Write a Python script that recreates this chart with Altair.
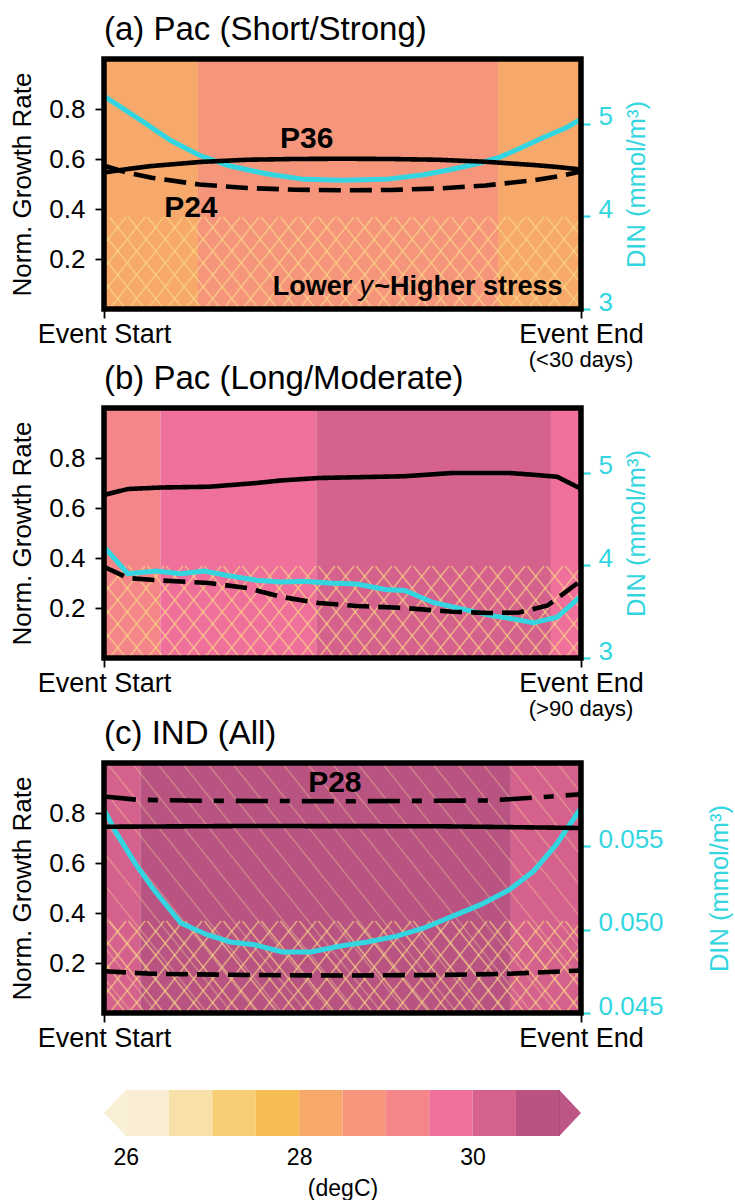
import altair as alt
import pandas as pd

FONT = "Liberation Sans"
CYAN = "#33D6E0"
W, H = 477, 250

# ---------------- colour scale (SST, degC) ----------------
sst_thresholds = [26, 26.5, 27, 27.5, 28, 28.5, 29, 29.5, 30, 30.5, 31]
sst_colors = ["#F9EFD7", "#F9EED4", "#F7E1A8", "#F7CE75", "#F8BC55", "#F6A96A",
              "#F5967C", "#F4868A", "#EF719B", "#D5628C", "#B95482", "#BB5686"]
cbar_ticks = [26, 28, 30]

# ---------------- panel (a) Pac short/strong ----------------
a_band_start = [0.0, 0.197, 0.826]
a_band_end = [0.197, 0.826, 1.0]
a_band_sst = [28.25, 28.75, 28.25]
a_p36_x = [0, 0.05, 0.1, 0.2, 0.3, 0.4, 0.5, 0.6, 0.7, 0.8, 0.9, 0.95, 1.0]
a_p36_y = [0.546, 0.56, 0.572, 0.588, 0.597, 0.600, 0.601, 0.600, 0.597, 0.589, 0.576, 0.568, 0.558]
a_p24_x = [0, 0.05, 0.1, 0.2, 0.3, 0.4, 0.5, 0.6, 0.7, 0.8, 0.9, 0.95, 1.0]
a_p24_y = [0.573, 0.545, 0.525, 0.498, 0.484, 0.477, 0.475, 0.476, 0.482, 0.494, 0.515, 0.53, 0.55]
a_din_x = [0, 0.08, 0.14, 0.2, 0.26, 0.34, 0.42, 0.5, 0.59, 0.67, 0.73, 0.79, 0.83, 0.87, 0.92, 0.97, 1.0]
a_din = [5.30, 5.03, 4.82, 4.66, 4.55, 4.46, 4.40, 4.39, 4.40, 4.45, 4.51, 4.58, 4.64, 4.73, 4.85, 4.96, 5.05]

# ---------------- panel (b) Pac long/moderate ----------------
b_band_start = [0.0, 0.118, 0.445, 0.937]
b_band_end = [0.118, 0.445, 0.937, 1.0]
b_band_sst = [29.25, 29.75, 30.25, 29.75]
b_p36_x = [0, 0.05, 0.12, 0.22, 0.32, 0.37, 0.45, 0.63, 0.73, 0.85, 0.9, 0.95, 1.0]
b_p36_y = [0.652, 0.676, 0.682, 0.685, 0.70, 0.71, 0.72, 0.727, 0.74, 0.74, 0.733, 0.725, 0.677]
b_p24_x = [0, 0.05, 0.12, 0.22, 0.3, 0.37, 0.45, 0.53, 0.63, 0.73, 0.81, 0.87, 0.93, 1.0]
b_p24_y = [0.365, 0.32, 0.31, 0.30, 0.28, 0.245, 0.22, 0.208, 0.20, 0.185, 0.18, 0.182, 0.21, 0.31]
b_din_x = [0, 0.05, 0.11, 0.16, 0.21, 0.26, 0.32, 0.37, 0.42, 0.47, 0.53, 0.59, 0.63, 0.69,
           0.75, 0.81, 0.86, 0.9, 0.95, 1.0]
b_din = [4.20, 3.91, 3.94, 3.91, 3.94, 3.89, 3.84, 3.82, 3.83, 3.81, 3.80, 3.74, 3.73, 3.60,
         3.53, 3.46, 3.42, 3.38, 3.44, 3.67]

# ---------------- panel (c) IND all ----------------
c_band_start = [0.0, 0.076, 0.853]
c_band_end = [0.076, 0.853, 1.0]
c_band_sst = [30.25, 30.75, 30.25]
c_p28_x = [0, 0.07, 0.2, 0.5, 0.8, 0.85, 0.93, 1.0]
c_p28_y = [0.866, 0.853, 0.849, 0.847, 0.85, 0.855, 0.865, 0.875]
c_p36_x = [0, 0.3, 0.7, 1.0]
c_p36_y = [0.745, 0.748, 0.747, 0.74]
c_p24_x = [0, 0.1, 0.3, 0.5, 0.7, 0.85, 1.0]
c_p24_y = [0.167, 0.157, 0.152, 0.15, 0.152, 0.157, 0.17]
c_din_x = [0.0, 0.028, 0.067, 0.107, 0.161, 0.216, 0.265, 0.315, 0.374, 0.434, 0.493, 0.552,
           0.612, 0.671, 0.73, 0.79, 0.85, 0.9, 0.948, 1.0]
c_din = [0.0572, 0.0557, 0.0539, 0.0523, 0.0504, 0.0497, 0.04926, 0.0491, 0.04866, 0.04866,
         0.0490, 0.04926, 0.0496, 0.0501, 0.0508, 0.0515, 0.0524, 0.0535, 0.0551, 0.0573]

STRESS_TOP = 0.368   # top of the cross-hatched "higher stress" zone

# ---------------- helpers ----------------
sst_scale = alt.Scale(type="threshold", domain=sst_thresholds, range=sst_colors)
xs = alt.Scale(domain=[0, 1], nice=False, zero=False)
ys = alt.Scale(domain=[0, 1], nice=False, zero=False)


def hatch_lines(y_lo, y_hi, direction, spacing, slope=1.25):
    """Diagonal hatch texture clipped to x in [0,1], y in [y_lo, y_hi]."""
    v0, v1 = y_lo * H, y_hi * H
    span = (v1 - v0) / slope
    rows = []
    if direction == "/":
        c = -span + 3
        while c < W:
            ua = max(c, 0.0); va = v0 + slope * (ua - c)
            ub = min(c + span, W); vb = v0 + slope * (ub - c)
            if ub > ua:
                rows.append((ua / W, va / H, ub / W, vb / H))
            c += spacing
    else:
        c = 3.0
        while c < W + span:
            ua = max(c - span, 0.0); va = v0 + slope * (c - ua)
            ub = min(c, W); vb = v0 + slope * (c - ub)
            if ub > ua:
                rows.append((ua / W, va / H, ub / W, vb / H))
            c += spacing
    return pd.DataFrame(rows, columns=["x", "y", "x2", "y2"])


def series_df(pairs):
    frames = []
    for name, xv, yv in pairs:
        frames.append(pd.DataFrame({"x": xv, "y": yv, "s": name}))
    return pd.concat(frames, ignore_index=True)


x_axis = alt.Axis(values=[0, 1], labelExpr="datum.value < 0.5 ? 'Event Start' : 'Event End'",
                  labelFlush=False, labelOverlap=False, title=None, domain=False, grid=False,
                  tickSize=9, tickWidth=1.8, tickColor="black", labelFontSize=27,
                  labelPadding=3, labelColor="black", labelFont=FONT)
y_axis = alt.Axis(values=[0.2, 0.4, 0.6, 0.8], format=".1f", title="Norm. Growth Rate",
                  titleFontSize=26, titleFontWeight="normal", titlePadding=13, titleColor="black",
                  labelFontSize=26, labelPadding=10, labelColor="black", tickSize=9,
                  tickWidth=1.8, tickColor="black", domain=False, grid=False,
                  labelFont=FONT, titleFont=FONT)
X = alt.X("x:Q", scale=xs, axis=x_axis)
Y = alt.Y("y:Q", scale=ys, axis=y_axis)

# plot-area frame (the domain corners of both axes)
frame = pd.DataFrame({"x": [0.0], "x2": [1.0], "y": [0.0], "y2": [1.0]})


def ann(x, y, text, size=30, weight="bold", style="normal", align="center", dx=0):
    return alt.Chart(pd.DataFrame({"x": [x], "y": [y], "t": [text]})).mark_text(
        fontSize=size, fontWeight=weight, fontStyle=style, align=align,
        baseline="alphabetic", dx=dx, color="black", font=FONT
    ).encode(x=X, y=Y, text="t:N")


def panel(title, bs, be, bt, lines, din_x, din_v, din_dom, din_ticks, din_fmt, din_pad,
          extra_hatch, notes, sub):
    bands = pd.DataFrame({"x0": bs, "x1": be, "t": bt})
    hy = lambda: alt.Y("y:Q", scale=ys, axis=None)
    layers_back = [
        alt.Chart(bands).mark_rect().encode(
            x=alt.X("x0:Q", scale=xs, axis=x_axis), x2="x1:Q",
            color=alt.Color("t:Q", scale=sst_scale, legend=None))
    ]
    if extra_hatch:
        layers_back.append(
            alt.Chart(hatch_lines(0, 1, "\\", 25)).mark_rule(
                color="#FBE3A0", strokeWidth=1.5, opacity=0.3).encode(
                x=X, x2="x2:Q", y=hy(), y2="y2:Q"))
    cross = pd.concat([hatch_lines(0, STRESS_TOP, "/", 19),
                       hatch_lines(0, STRESS_TOP, "\\", 19)], ignore_index=True)
    layers_back.append(
        alt.Chart(cross).mark_rule(color="#FCDC85", strokeWidth=1.6, opacity=0.6).encode(
            x=X, x2="x2:Q", y=hy(), y2="y2:Q"))
    back = alt.layer(*layers_back)

    din = alt.Chart(pd.DataFrame({"x": din_x, "v": din_v})).mark_line(
        color=CYAN, strokeWidth=5).encode(
        x=X,
        y=alt.Y("v:Q", scale=alt.Scale(domain=din_dom, nice=False, zero=False),
                axis=alt.Axis(orient="right", values=din_ticks, format=din_fmt,
                              title="DIN (mmol/m³)", titleAngle=270, titleBaseline="top",
                              titleFontSize=25.5, titleFontWeight="normal", titleColor=CYAN,
                              titlePadding=din_pad, labelFontSize=26, labelColor=CYAN,
                              labelPadding=8, labelOffset=-7, tickSize=9, tickWidth=2.2,
                              tickColor=CYAN, domain=False, grid=False,
                              labelFont=FONT, titleFont=FONT)))

    front_layers = [
        alt.Chart(series_df(lines)).mark_line(color="black", strokeWidth=4.6).encode(
            x=X, y=Y,
            detail="s:N",
            strokeDash=alt.StrokeDash("s:N", legend=None, scale=alt.Scale(
                domain=["P36", "P24", "P28"], range=[[1, 0], [22, 9], [32, 12, 10, 12]])))
    ]
    front_layers += notes
    if sub:
        front_layers.append(
            alt.Chart(pd.DataFrame({"x": [1.0], "t": [sub]})).mark_text(
                fontSize=22, align="center", baseline="alphabetic", color="black", font=FONT
            ).encode(x=X, y=alt.value(H + 58), text="t:N"))
    front_layers.append(
        alt.Chart(frame).mark_rect(filled=False, stroke="black", strokeWidth=5.5).encode(
            x=X, x2="x2:Q", y=Y, y2="y2:Q"))
    front = alt.layer(*front_layers)

    return alt.layer(back, din, front).resolve_scale(y="independent").properties(
        width=W, height=H,
        title=alt.TitleParams(title, anchor="start", frame="group", fontSize=33,
                              fontWeight="normal", offset=9, font=FONT, color="black"))


pa = panel("(a) Pac (Short/Strong)", a_band_start, a_band_end, a_band_sst,
           [("P36", a_p36_x, a_p36_y), ("P24", a_p24_x, a_p24_y)],
           a_din_x, a_din, [3, 5.7], [3, 4, 5], "d", 12, False,
           [ann(0.425, 0.646, "P36"), ann(0.182, 0.369, "P24"),
            ann(0.535, 0.058, "Lower", size=27, align="right", dx=-7),
            ann(0.535, 0.058, "y", size=27, style="italic", weight="normal", align="left"),
            ann(0.535, 0.058, "~Higher stress", size=27, align="left", dx=15)],
           "(<30 days)")
pb = panel("(b) Pac (Long/Moderate)", b_band_start, b_band_end, b_band_sst,
           [("P36", b_p36_x, b_p36_y), ("P24", b_p24_x, b_p24_y)],
           b_din_x, b_din, [3, 5.7], [3, 4, 5], "d", 12, False, [], "(>90 days)")
pc = panel("(c) IND (All)", c_band_start, c_band_end, c_band_sst,
           [("P28", c_p28_x, c_p28_y), ("P36", c_p36_x, c_p36_y), ("P24", c_p24_x, c_p24_y)],
           c_din_x, c_din, [0.045, 0.060], [0.045, 0.050, 0.055], ".3f", 44, True,
           [ann(0.484, 0.886, "P28")], None)

# ---------------- colour bar ----------------
cb_bins = pd.DataFrame({"lo": sst_thresholds[:-1], "hi": sst_thresholds[1:]})
cb_bins["t"] = (cb_bins["lo"] + cb_bins["hi"]) / 2
cbx = alt.Scale(domain=[25.75, 31.25], nice=False, zero=False)
cby = alt.Scale(domain=[0, 1], nice=False, zero=False)
arrows = pd.DataFrame({
    "side": ["under", "under", "over", "over"],
    "x": [25.75, 26.0, 31.0, 31.25],
    "lo": [0.5, 0.0, 0.0, 0.5],
    "hi": [0.5, 1.0, 1.0, 0.5],
    "t": [25.9, 25.9, 31.1, 31.1],
})
cb_axis = alt.Axis(values=cbar_ticks, format="d", ticks=False, tickSize=0, domain=False,
                   grid=False, labelFontSize=23, labelPadding=10, labelColor="black",
                   labelFlush=False, title="(degC)", titleFontSize=23, titleFontWeight="normal",
                   titlePadding=8, titleColor="black", labelFont=FONT, titleFont=FONT)
cbar = alt.layer(
    alt.Chart(cb_bins).mark_rect().encode(
        x=alt.X("lo:Q", scale=cbx, axis=cb_axis), x2="hi:Q",
        color=alt.Color("t:Q", scale=sst_scale, legend=None)),
    alt.Chart(arrows).mark_area().encode(
        x=alt.X("x:Q", scale=cbx, axis=cb_axis),
        y=alt.Y("lo:Q", scale=cby, axis=None), y2="hi:Q",
        detail="side:N",
        color=alt.Color("t:Q", scale=sst_scale, legend=None)),
    alt.Chart(pd.DataFrame({"x": [31.0]})).mark_rule(color="#A64476", strokeWidth=1).encode(
        x=alt.X("x:Q", scale=cbx, axis=cb_axis)),
).properties(width=W, height=46)

chart = alt.vconcat(
    alt.vconcat(alt.vconcat(pa, pb, spacing=-8), pc, spacing=-2),
    cbar, spacing=38
).properties(
    padding={"left": 9, "top": 14, "right": 0, "bottom": 0}
).configure(font=FONT).configure_view(strokeWidth=0).configure_text(
    font=FONT).configure_title(font=FONT)

chart.save("out.html", embed_options={"renderer": "svg", "actions": False})
